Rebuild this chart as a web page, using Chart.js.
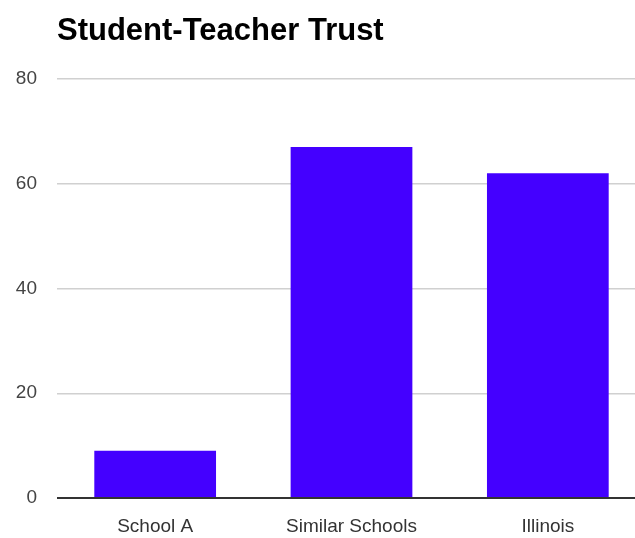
<!DOCTYPE html>
<html>
<head>
<meta charset="utf-8">
<script src="https://cdn.jsdelivr.net/npm/chart.js@4/dist/chart.umd.min.js"></script>
<style>
    html, body { margin: 0; padding: 0; background: #fff; overflow: hidden; }
    #wrap { position: relative; width: 646px; height: 538px; }
    #title {
        position: absolute; left: 57px; top: 14px; margin: 0;
        font: bold 31px/31px "Liberation Sans", Arial, sans-serif; color: #000;
    }
</style>
</head>
<body>
<div id="wrap">
    <canvas id="trustChart" width="646" height="538"></canvas>
    <h1 id="title">Student-Teacher Trust</h1>
</div>
<script>
// Chart data
const categories = ['School A', 'Similar Schools', 'Illinois'];
const trustValues = [9, 67, 62];
const yTicks = [0, 20, 40, 60, 80];

document.addEventListener('DOMContentLoaded', function () {
    const ctx = document.getElementById('trustChart');
    const tickFont = { family: 'Liberation Sans', size: 19 };
    new Chart(ctx, {
        type: 'bar',
        data: {
            labels: categories,
            datasets: [{
                data: trustValues,
                backgroundColor: '#4400ff',
                borderWidth: 0,
                categoryPercentage: 0.62,
                barPercentage: 1
            }]
        },
        options: {
            responsive: false,
            animation: false,
            layout: { padding: { top: 79, right: 0, left: 0, bottom: 0 } },
            plugins: {
                legend: { display: false },
                tooltip: { enabled: false }
            },
            scales: {
                x: {
                    grid: { display: false, drawTicks: false },
                    border: { display: false },
                    ticks: {
                        color: '#333',
                        padding: 17,
                        font: tickFont
                    },
                    afterFit: function (scale) { scale.height = 40; }
                },
                y: {
                    min: 0,
                    max: 80,
                    afterBuildTicks: function (scale) {
                        scale.ticks = yTicks.map(v => ({ value: v }));
                    },
                    grid: {
                        drawTicks: false,
                        lineWidth: function (c) { return c.tick && c.tick.value === 0 ? 2 : 1.5; },
                        color: function (c) { return c.tick && c.tick.value === 0 ? '#333' : '#d0d0d0'; }
                    },
                    border: { display: false },
                    ticks: {
                        color: '#444',
                        padding: 20,
                        font: tickFont
                    },
                    afterFit: function (scale) { scale.width = 57; }
                }
            }
        }
    });
});
</script>
</body>
</html>
